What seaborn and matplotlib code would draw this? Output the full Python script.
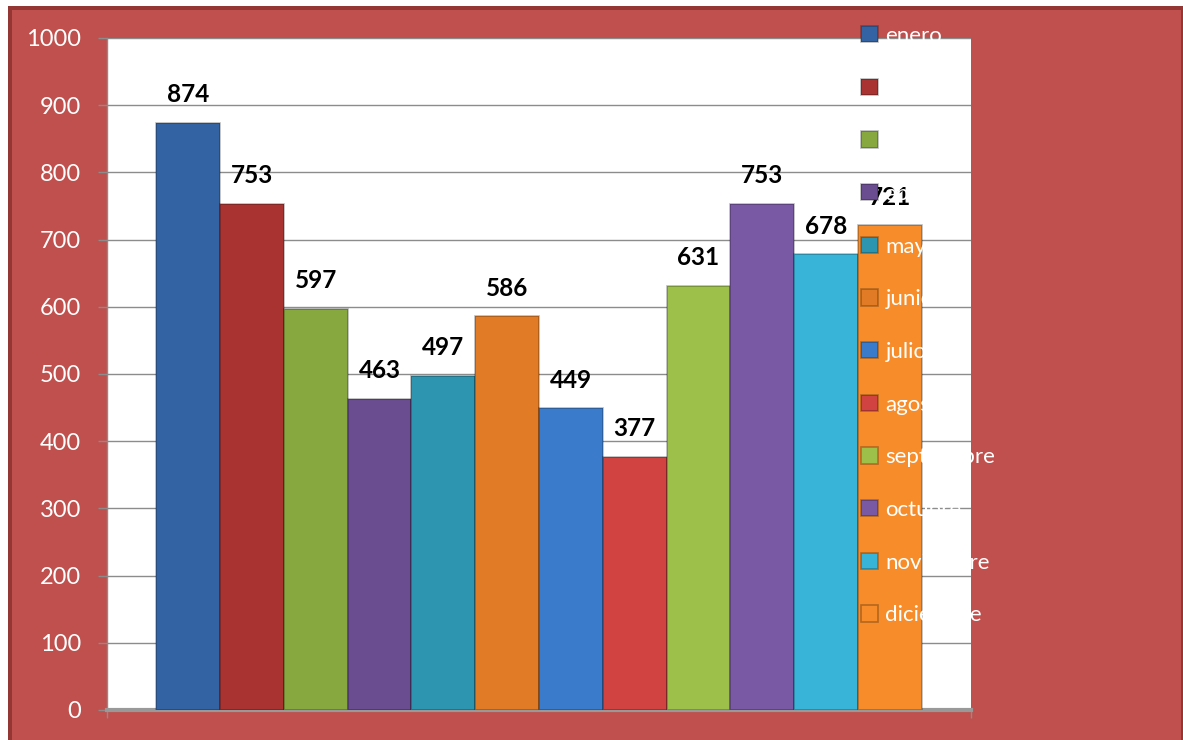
import matplotlib
matplotlib.use("Agg")
import matplotlib.pyplot as plt
from matplotlib.patches import Rectangle
import seaborn as sns
import pandas as pd

meses = ["enero", "febrero", "marzo", "abril", "mayo", "junio", "julio",
         "agosto", "septiembre", "octubre", "noviembre", "diciembre"]
valores = [874, 753, 597, 463, 497, 586, 449, 377, 631, 753, 678, 721]
colores = ["#3363A3", "#A83330", "#86A83E", "#6A4C90", "#2E95B0", "#E27B25",
           "#3B7BCB", "#D04341", "#9CC049", "#7A59A4", "#38B4D8", "#F68D2A"]
yticks = list(range(0, 1001, 100))

df = pd.DataFrame({"grupo": ["g"] * len(meses), "mes": meses, "valor": valores})

sns.set_theme(style="white")
plt.rcParams["font.family"] = ["Lato", "DejaVu Sans"]

W, H = 1183, 740
fig = plt.figure(figsize=(W / 100, H / 100), dpi=100)
fig.patch.set_facecolor("white")

# red chart frame
red = "#C0504D"
dark = "#943634"
fig.patches.append(Rectangle((8 / W, 0), 1 - 8 / W, (H - 6) / H,
                             transform=fig.transFigure, facecolor=red,
                             edgecolor="none", zorder=-10))
fig.patches.append(Rectangle((8 / W, 0), 4 / W, (H - 6) / H,
                             transform=fig.transFigure, facecolor=dark,
                             edgecolor="none", zorder=-9))
fig.patches.append(Rectangle((8 / W, (H - 10) / H), 1 - 8 / W, 4 / H,
                             transform=fig.transFigure, facecolor=dark,
                             edgecolor="none", zorder=-9))
fig.patches.append(Rectangle((1181 / W, 0), 2 / W, (H - 6) / H,
                             transform=fig.transFigure, facecolor=dark,
                             edgecolor="none", zorder=-9))

ax = fig.add_axes([107 / W, 30 / H, (971 - 107) / W, (710 - 38) / H])
ax.set_facecolor("white")

sns.barplot(data=df, x="grupo", y="valor", hue="mes", hue_order=meses,
            palette=colores, width=0.886, saturation=1, ax=ax,
            edgecolor="#00000045", linewidth=1.2, legend=True, zorder=3)

handles, labels = ax.get_legend_handles_labels()
ax.get_legend().remove()

for cont in ax.containers:
    ax.bar_label(cont, fmt="%d", padding=12, fontsize=17.5, fontweight="bold",
                 color="black", zorder=4)

ax.set_ylim(0, 1000)
ax.set_xlim(-0.5, 0.5)
ax.set_yticks(yticks)
ax.set_yticklabels([str(v) for v in yticks])
ax.set_xticks([-0.5, 0.5])
ax.set_xticklabels(["", ""])
ax.set_xlabel("")
ax.set_ylabel("")
ax.yaxis.grid(True, color="#8C8C8C", linewidth=1.0, zorder=0)
ax.set_axisbelow(True)
ax.tick_params(axis="y", colors="#8C8C8C", labelcolor="white", length=6.5,
               width=1, pad=12, labelsize=17, left=True, direction="out")
ax.tick_params(axis="x", colors="#8C8C8C", length=6, width=1, bottom=True,
               direction="out")
for s in ["top", "right"]:
    ax.spines[s].set_visible(False)
ax.spines["left"].set_color("#8C8C8C")
ax.spines["left"].set_linewidth(1.0)
ax.spines["bottom"].set_color("#999999")
ax.spines["bottom"].set_linewidth(3.0)

fig.legend(handles, labels, loc="upper left",
           bbox_to_anchor=(861 / W, 1 - 26 / H), frameon=False,
           fontsize=16, labelcolor="white", handlelength=0.75,
           handleheight=0.75, handletextpad=0.35, labelspacing=1.47,
           borderpad=0, borderaxespad=0)

fig.savefig("out.png", dpi=100, facecolor=fig.get_facecolor())
